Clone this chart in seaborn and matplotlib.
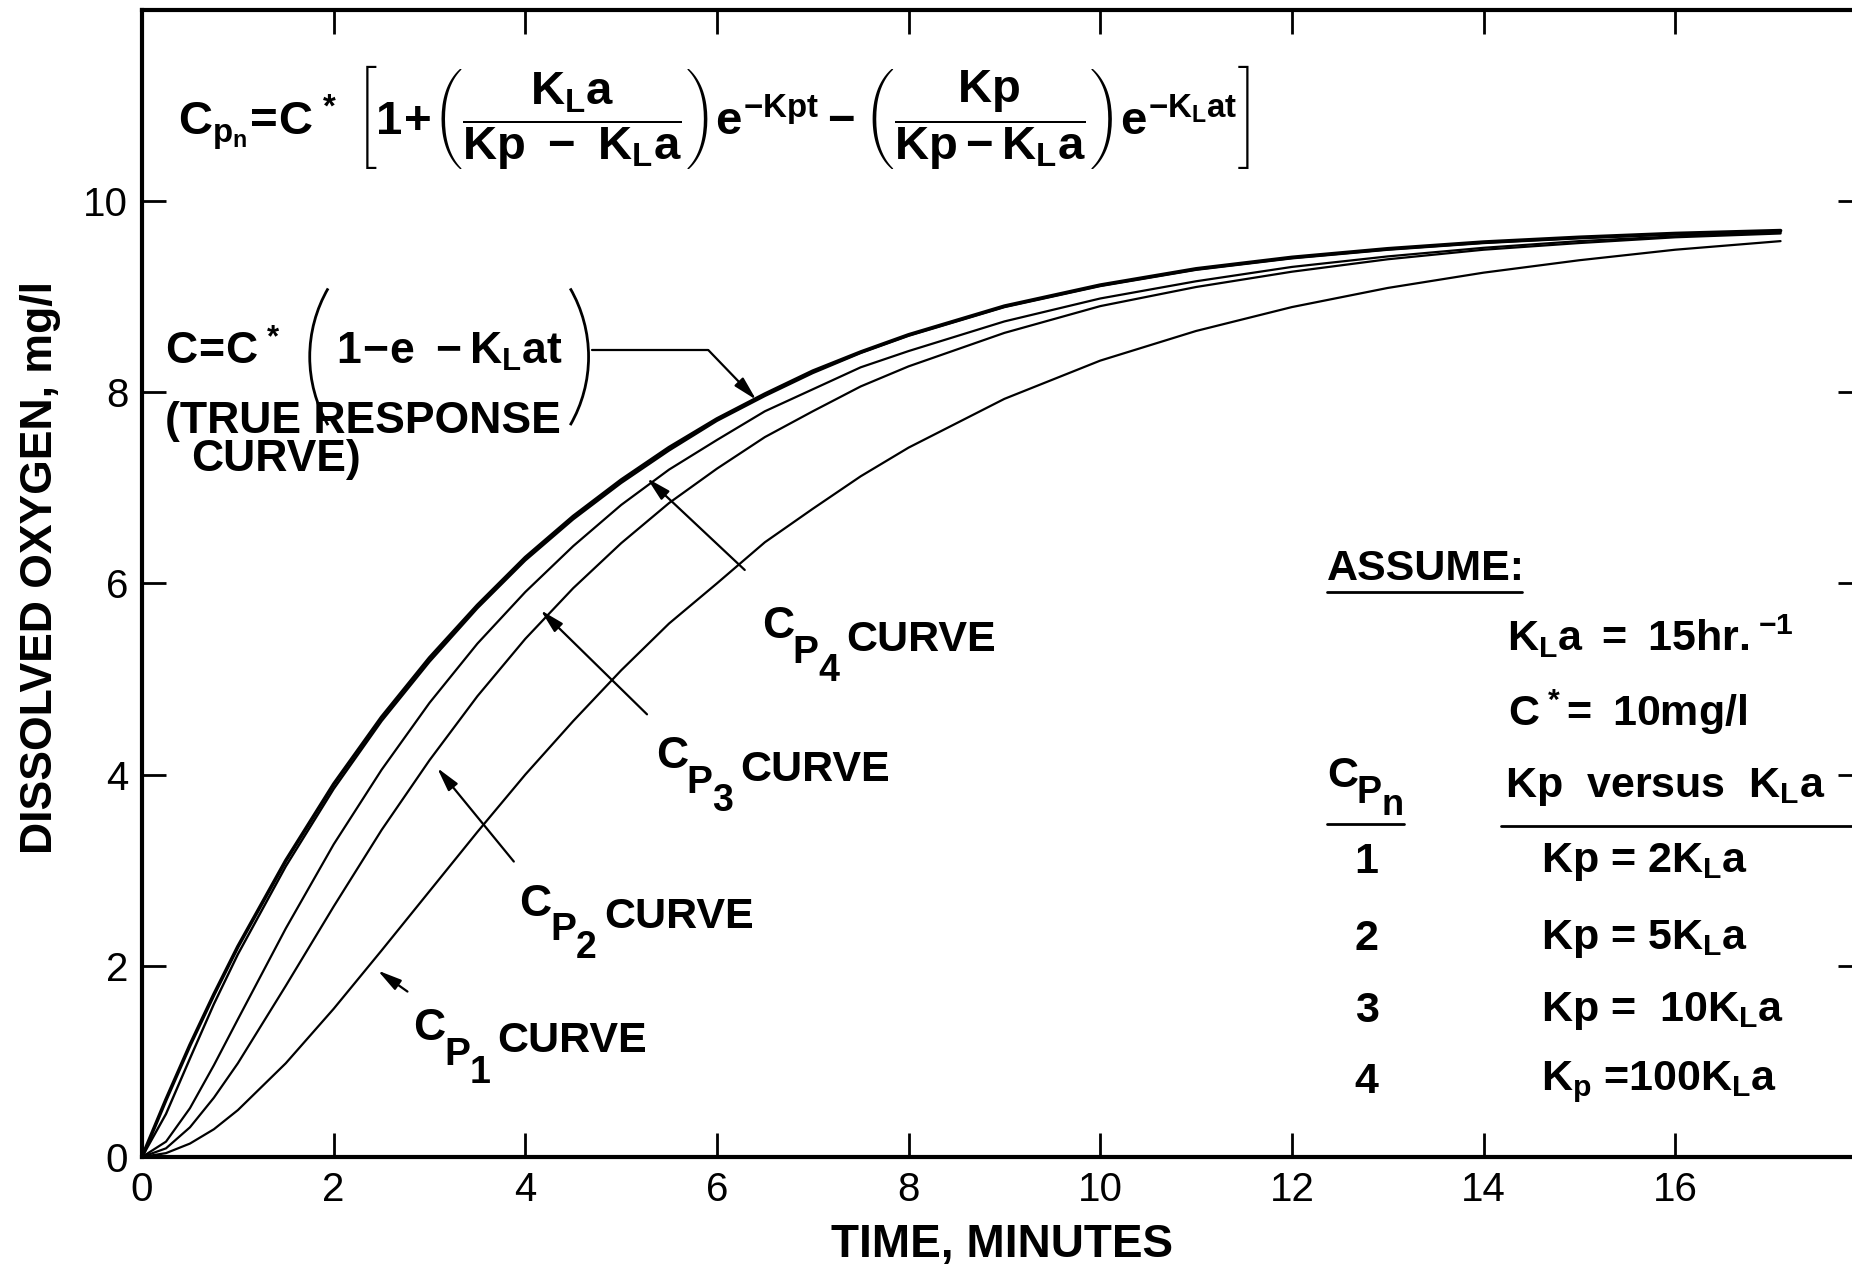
import matplotlib
matplotlib.use("Agg")
import matplotlib.pyplot as plt
import seaborn as sns
import pandas as pd
from matplotlib.patches import Arc

# ---- data ----
time_min = [0, 0.25, 0.5, 0.75, 1, 1.5, 2, 2.5, 3, 3.5, 4, 4.5, 5, 5.5, 6, 6.5, 7, 7.5, 8, 9, 10, 11, 12, 13, 14, 15, 16, 17.1]
true_response = [0, 0.6, 1.17, 1.7, 2.2, 3.1, 3.9, 4.6, 5.22, 5.77, 6.27, 6.7, 7.08, 7.42, 7.72, 7.98, 8.22, 8.42, 8.6, 8.9, 9.12, 9.29, 9.41, 9.5, 9.57, 9.62, 9.66, 9.69]
cp4_curve = [0, 0.45, 1.03, 1.6, 2.12, 3.04, 3.85, 4.56, 5.18, 5.74, 6.24, 6.67, 7.05, 7.39, 7.7, 7.96, 8.2, 8.41, 8.59, 8.89, 9.11, 9.28, 9.4, 9.49, 9.56, 9.61, 9.65, 9.68]
cp3_curve = [0, 0.16, 0.51, 0.96, 1.44, 2.39, 3.27, 4.05, 4.75, 5.37, 5.91, 6.39, 6.82, 7.19, 7.5, 7.8, 8.03, 8.26, 8.43, 8.74, 8.98, 9.16, 9.31, 9.42, 9.51, 9.58, 9.63, 9.67]
cp2_curve = [0, 0.09, 0.31, 0.62, 0.98, 1.79, 2.62, 3.42, 4.15, 4.82, 5.42, 5.95, 6.42, 6.84, 7.2, 7.53, 7.8, 8.06, 8.27, 8.62, 8.9, 9.1, 9.26, 9.39, 9.49, 9.56, 9.62, 9.66]
cp1_curve = [0, 0.04, 0.14, 0.29, 0.49, 0.98, 1.55, 2.16, 2.78, 3.4, 4.0, 4.56, 5.09, 5.58, 6.0, 6.43, 6.78, 7.12, 7.42, 7.93, 8.33, 8.64, 8.89, 9.09, 9.25, 9.38, 9.49, 9.58]

curve_names = ["CP1", "CP2", "CP3", "CP4", "TRUE"]
curve_values = [cp1_curve, cp2_curve, cp3_curve, cp4_curve, true_response]
x_ticks = [0, 2, 4, 6, 8, 10, 12, 14, 16]
y_ticks = [0, 2, 4, 6, 8, 10]

rows = []
for name, vals in zip(curve_names, curve_values):
    for t, v in zip(time_min, vals):
        rows.append({"time": t, "oxygen": v, "curve": name})
df = pd.DataFrame(rows)

sns.set_style("ticks", {"axes.edgecolor": "black", "text.color": "black",
                        "xtick.color": "black", "ytick.color": "black",
                        "axes.labelcolor": "black"})
plt.rcParams["font.family"] = ["Liberation Sans", "DejaVu Sans"]
plt.rcParams["mathtext.fontset"] = "custom"
plt.rcParams["mathtext.rm"] = "Liberation Sans:bold"
plt.rcParams["mathtext.it"] = "Liberation Sans:bold"
plt.rcParams["mathtext.bf"] = "Liberation Sans:bold"
plt.rcParams["mathtext.sf"] = "Liberation Sans:bold"

fig = plt.figure(figsize=(18.52, 12.69), dpi=100)
ax = fig.add_axes([0.0767, 0.0883, 0.9287, 0.904])

sns.lineplot(data=df, x="time", y="oxygen", hue="curve", size="curve",
             hue_order=curve_names, size_order=curve_names,
             palette={n: "black" for n in curve_names},
             sizes={"CP1": 1.6, "CP2": 1.6, "CP3": 1.6, "CP4": 1.7, "TRUE": 2.6},
             legend=False, errorbar=None, ax=ax)

ax.set_xlim(0, 17.95)
ax.set_ylim(0, 12)
ax.set_xticks(x_ticks)
ax.set_yticks(y_ticks)
ax.tick_params(direction="in", length=17, width=2, top=True, right=True,
               labelsize=29, pad=10)
for s in ax.spines.values():
    s.set_linewidth(3)
ax.set_xlabel("TIME, MINUTES", fontsize=33, fontweight="bold", labelpad=10)
ax.set_ylabel("DISSOLVED OXYGEN, mg/l", fontsize=32, fontweight="bold")
ax.yaxis.set_label_coords(-0.047, 0.514)


def seq_text(x, y, pieces):
    """Draw text pieces one after another; each piece: (text, size, dx_pt, dy_pt)."""
    txt, fs, _, _ = pieces[0]
    prev = ax.text(x, y, txt, fontsize=fs, fontweight="bold", va="bottom", ha="left")
    for txt, fs, dx, dy in pieces[1:]:
        prev = ax.annotate(txt, xy=(1, 0), xycoords=prev, xytext=(dx, dy),
                           textcoords="offset points", fontsize=fs,
                           fontweight="bold", va="bottom", ha="left")
    return prev


# ---- formula ----
formula = (r"$C_{p_n}\!=\!C^*\ \left[1\!+\!\left(\dfrac{K_La}{Kp\ -\ K_La}\right)e^{-Kpt}"
           r"-\left(\dfrac{Kp}{Kp-K_La}\right)e^{-K_Lat}\right]$")
ax.text(0.37, 10.87, formula, fontsize=34, va="center", ha="left")

# ---- true response note ----
ax.text(0.24, 8.42, r"$C\!=\!C^*$", fontsize=32, va="center", ha="left")
ax.text(2.02, 8.42, r"$1\!-\!e\ -K_Lat$", fontsize=32, va="center", ha="left")
ax.add_patch(Arc((1.75 + 1.43, 8.37), 2.86, 2.86, theta1=150, theta2=210,
                 lw=2, color="black", clip_on=False))
ax.add_patch(Arc((4.66 - 1.43, 8.37), 2.86, 2.86, theta1=-30, theta2=30,
                 lw=2, color="black", clip_on=False))
ax.text(0.24, 7.69, "(TRUE RESPONSE", fontsize=32, fontweight="bold", va="center")
ax.text(0.51, 7.30, "CURVE)", fontsize=32, fontweight="bold", va="center")
ax.plot([4.70, 5.91], [8.44, 8.44], color="black", lw=1.6)

arrow = dict(arrowstyle="-|>,head_length=0.8,head_width=0.2", lw=1.6,
             color="black", shrinkA=0, shrinkB=0, mutation_scale=18)
ax.annotate("", xy=(6.41, 7.92), xytext=(5.91, 8.44), arrowprops=arrow)

# ---- curve labels ----
def curve_label(x, y, digit):
    seq_text(x, y, [("C", 32, 0, 0), ("P", 28, -1, -17), (digit, 27, 0, -13),
                    ("CURVE", 31, 5, 21)])

curve_label(6.47, 5.33, "4")
ax.annotate("", xy=(5.27, 7.10), xytext=(6.29, 6.14), arrowprops=arrow)
curve_label(5.36, 3.97, "3")
ax.annotate("", xy=(4.16, 5.72), xytext=(5.27, 4.63), arrowprops=arrow)
curve_label(3.94, 2.43, "2")
ax.annotate("", xy=(3.08, 4.07), xytext=(3.88, 3.09), arrowprops=arrow)
curve_label(2.83, 1.13, "1")
ax.annotate("", xy=(2.46, 1.95), xytext=(2.77, 1.73), arrowprops=arrow)

# ---- assumptions block ----
blk = dict(fontsize=31, fontweight="bold", va="center", ha="left")
ax.text(12.37, 6.15, "ASSUME:", **blk)
ax.plot([12.37, 14.40], [5.91, 5.91], color="black", lw=2, clip_on=False)
ax.text(14.24, 5.44, r"$K_La\ =\ 15hr.^{-1}$", **blk)
ax.text(14.26, 4.65, r"$C^*\!=\ 10mg/l$", **blk)
seq_text(12.37, 3.78, [("C", 31, 0, 0), ("P", 27, -1, -11), ("n", 26, 0, -9)])
ax.plot([12.37, 13.17], [3.48, 3.48], color="black", lw=2, clip_on=False)
ax.text(14.22, 3.87, r"Kp  versus  $K_La$", **blk)
ax.plot([14.18, 18.3], [3.46, 3.46], color="black", lw=2, clip_on=False)
row_n = ["1", "2", "3", "4"]
row_txt = [r"Kp = 2$K_La$", r"Kp = 5$K_La$", r"Kp =  10$K_La$", r"$K_p$ =100$K_La$"]
row_y = [3.09, 2.28, 1.53, 0.78]
for n, txt, yy in zip(row_n, row_txt, row_y):
    ax.text(12.78, yy, n, fontsize=31, fontweight="bold", va="center", ha="center")
    ax.text(14.6, yy, txt, **blk)

fig.savefig("out.png", dpi=100)
